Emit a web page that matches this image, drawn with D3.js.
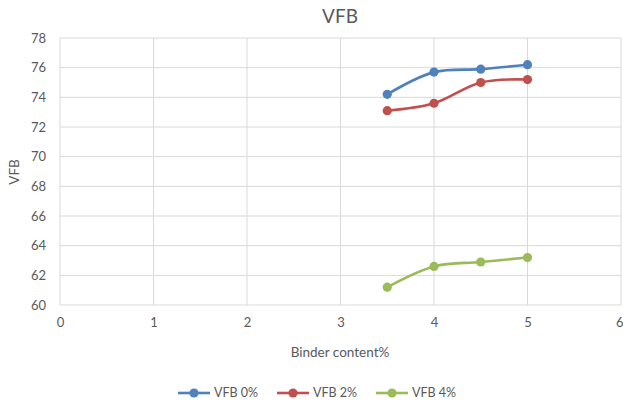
<!DOCTYPE html>
<html>
<head>
<meta charset="utf-8">
<script src="https://cdn.jsdelivr.net/npm/d3@7"></script>
<style>
  html, body { margin: 0; padding: 0; background: #fff; }
  svg { display: block; font-family: Lato, "Open Sans", sans-serif; }
</style>
</head>
<body>
<svg id="chart" width="623" height="402"></svg>
<script>
// Binder content (%) tested for each mix
const binder = [3.5, 4, 4.5, 5];
// VFB values for each filler level
const vfb0 = [74.2, 75.7, 75.9, 76.2];
const vfb2 = [73.1, 73.6, 75.0, 75.2];
const vfb4 = [61.2, 62.6, 62.9, 63.2];
const seriesNames = ["VFB 0%", "VFB 2%", "VFB 4%"];
const seriesColors = ["#4f81bd", "#c0504d", "#9bbb59"];
const xTicks = [0, 1, 2, 3, 4, 5, 6];
const yTicks = [60, 62, 64, 66, 68, 70, 72, 74, 76, 78];

const svg = d3.select("#chart");
const plotLeft = 60, plotRight = 621, plotTop = 38, plotBottom = 305;
const textColor = "#595959";

const x = d3.scaleLinear().domain([0, 6]).range([plotLeft, plotRight]);
const y = d3.scaleLinear().domain([60, 78]).range([plotBottom, plotTop]);

// Gridlines
svg.append("g").selectAll("line").data(xTicks).join("line")
  .attr("x1", d => x(d)).attr("x2", d => x(d))
  .attr("y1", plotTop).attr("y2", plotBottom)
  .attr("stroke", "#d9d9d9").attr("stroke-width", 1);
svg.append("g").selectAll("line").data(yTicks).join("line")
  .attr("x1", plotLeft).attr("x2", plotRight)
  .attr("y1", d => y(d)).attr("y2", d => y(d))
  .attr("stroke", "#d9d9d9").attr("stroke-width", 1);

// Axes (labels only; lines come from gridlines)
const xAxis = svg.append("g").attr("transform", `translate(0,${plotBottom})`)
  .call(d3.axisBottom(x).tickValues(xTicks).tickFormat(d3.format("d")).tickSize(0).tickPadding(13));
const yAxis = svg.append("g").attr("transform", `translate(${plotLeft},0)`)
  .call(d3.axisLeft(y).tickValues(yTicks).tickFormat(d3.format("d")).tickSize(0).tickPadding(14));
[xAxis, yAxis].forEach(a => {
  a.select(".domain").remove();
  a.selectAll("text").attr("fill", textColor).style("font-size", "13px")
    .style("font-family", "Lato, 'Open Sans', sans-serif");
});
xAxis.selectAll("text").attr("dy", "0.71em");
// keep the last label inside the page edge
xAxis.selectAll(".tick").filter(d => d === 6).select("text")
  .attr("text-anchor", "end").attr("x", 623 - plotRight);

// Series lines and markers
const series = [vfb0, vfb2, vfb4];
const line = d3.line()
  .x((d, i) => x(binder[i]))
  .y(d => y(d))
  .curve(d3.curveCatmullRom.alpha(0.5));

series.forEach((vals, s) => {
  svg.append("path").datum(vals)
    .attr("d", line)
    .attr("fill", "none")
    .attr("stroke", seriesColors[s])
    .attr("stroke-width", 2.6)
    .attr("stroke-linecap", "round");
  svg.append("g").selectAll("circle").data(vals).join("circle")
    .attr("cx", (d, i) => x(binder[i]))
    .attr("cy", d => y(d))
    .attr("r", 4.6)
    .attr("fill", seriesColors[s]);
});

// Title and axis titles
svg.append("text").attr("x", 340).attr("y", 23).attr("text-anchor", "middle")
  .attr("fill", textColor).style("font-size", "19px").text("VFB");
svg.append("text").attr("x", 340).attr("y", 357).attr("text-anchor", "middle")
  .attr("fill", textColor).style("font-size", "13.5px").text("Binder content%");
svg.append("text").attr("transform", "translate(19,172) rotate(-90)")
  .attr("text-anchor", "middle")
  .attr("fill", textColor).style("font-size", "13.5px").text("VFB");

// Legend
const legendX = [178, 277, 376];
const legendY = 393;
seriesNames.forEach((name, s) => {
  const g = svg.append("g").attr("transform", `translate(${legendX[s]},${legendY})`);
  g.append("line").attr("x1", 0).attr("x2", 32).attr("y1", 0).attr("y2", 0)
    .attr("stroke", seriesColors[s]).attr("stroke-width", 2.6);
  g.append("circle").attr("cx", 16).attr("cy", 0).attr("r", 4.6).attr("fill", seriesColors[s]);
  g.append("text").attr("x", 36).attr("y", 0).attr("dy", "0.35em")
    .attr("fill", textColor).style("font-size", "12.5px").text(name);
});
</script>
</body>
</html>
